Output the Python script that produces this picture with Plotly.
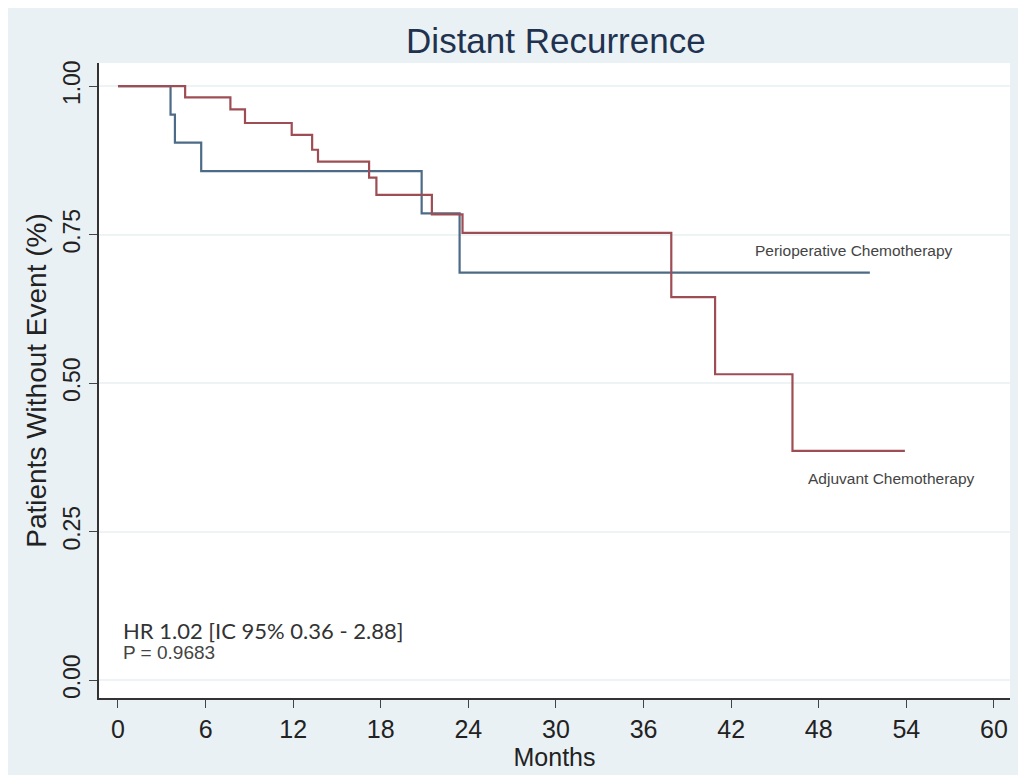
import plotly.graph_objects as go

# Kaplan-Meier step data (months, survival proportion)
peri_months = [0, 3.6, 3.9, 5.7, 20.8, 23.4, 51.5]
peri_surv = [1.0, 0.952, 0.905, 0.857, 0.786, 0.686, 0.686]

adj_months = [0, 4.6, 7.7, 8.7, 11.9, 13.3, 13.7, 17.2, 17.7, 21.5, 23.6, 37.9, 40.9, 46.2, 53.9]
adj_surv = [1.0, 0.981, 0.961, 0.938, 0.918, 0.893, 0.873, 0.846, 0.817, 0.784, 0.753, 0.645, 0.515, 0.386, 0.386]

x_ticks = [0, 6, 12, 18, 24, 30, 36, 42, 48, 54, 60]
y_ticks = [0, 0.25, 0.5, 0.75, 1.0]
y_ticklabels = ["0.00", "0.25", "0.50", "0.75", "1.00"]

title = "Distant Recurrence"
x_title = "Months"
y_title = "Patients Without Event (%)"
label_peri = "Perioperative Chemotherapy"
label_adj = "Adjuvant Chemotherapy"
hr_text = "HR 1.02 [IC 95% 0.36 - 2.88]"
p_text = "P = 0.9683"

blue = "#4d6b87"
red = "#9e4d54"
bg = "#eaf1f4"

fig = go.Figure()
fig.add_trace(go.Scatter(x=peri_months, y=peri_surv, mode="lines",
                         line=dict(color=blue, width=2.2, shape="hv"),
                         name=label_peri, showlegend=False))
fig.add_trace(go.Scatter(x=adj_months, y=adj_surv, mode="lines",
                         line=dict(color=red, width=2.2, shape="hv"),
                         name=label_adj, showlegend=False))

fig.add_annotation(x=50.4, y=0.724, text=label_peri, showarrow=False,
                   font=dict(family="Liberation Sans, Arial", size=15.5, color="#444"))
fig.add_annotation(x=53.0, y=0.340, text=label_adj, showarrow=False,
                   font=dict(family="Liberation Sans, Arial", size=15.5, color="#444"))
fig.add_annotation(x=0.2, y=0.083, text=hr_text, showarrow=False, xanchor="left",
                   font=dict(family="Lato, Open Sans", size=22, color="#333"))
fig.add_annotation(x=0.2, y=0.046, text=p_text, showarrow=False, xanchor="left",
                   font=dict(family="Liberation Sans, Arial", size=19, color="#444"))

fig.update_layout(
    width=1026, height=775,
    paper_bgcolor=bg, plot_bgcolor="white",
    margin=dict(l=91, r=24, t=55, b=85),
    title=dict(text=title, x=0.534, xanchor="center", y=0.958, yanchor="middle",
               font=dict(family="Liberation Sans, Arial", size=35, color="#1f3350")),
    font=dict(family="Liberation Sans, Arial", color="#222"),
)
fig.update_xaxes(range=[-1.3, 61.1], tickvals=x_ticks, ticks="outside", ticklen=8,
                 tickcolor="#444", showline=True, linecolor="#333", linewidth=1.5,
                 showgrid=False, zeroline=False, tickfont=dict(size=25),
                 title=dict(text=x_title, font=dict(size=25), standoff=2))
fig.update_yaxes(range=[-0.03, 1.039], tickvals=y_ticks, ticktext=y_ticklabels,
                 tickangle=-90, ticks="outside", ticklen=8, tickcolor="#444",
                 showline=True, linecolor="#333", linewidth=1.5,
                 showgrid=True, gridcolor="#eef3f5", gridwidth=1.5, zeroline=False,
                 tickfont=dict(size=23),
                 title=dict(text=y_title, font=dict(size=28), standoff=4))

fig.write_html("out.html")
